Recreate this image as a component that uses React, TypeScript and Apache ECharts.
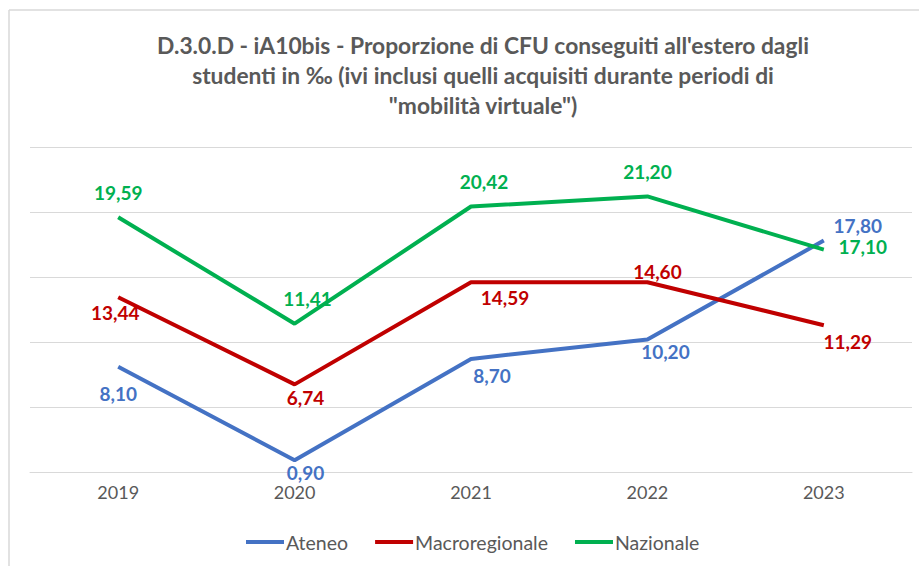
import React, { useEffect, useRef } from "react";
import * as echarts from "echarts";

const years = ["2019", "2020", "2021", "2022", "2023"];
const ateneo = [8.1, 0.9, 8.7, 10.2, 17.8];
const macroregionale = [13.44, 6.74, 14.59, 14.6, 11.29];
const nazionale = [19.59, 11.41, 20.42, 21.2, 17.1];

const titleText =
  "D.3.0.D - iA10bis - Proporzione di CFU conseguiti all'estero dagli\nstudenti in ‰ (ivi inclusi quelli acquisiti durante periodi di\n\"mobilità virtuale\")";

// label offsets (styling) relative to each point
const ateneoOffsets = [[0, 27], [11, 12], [21, 17], [18, 12], [34, -15]];
const macroOffsets = [[-3, 15], [11, 13], [34, 15], [10, -11], [24, 16]];
const nazOffsets = [[0, -25], [13, -25], [13, -25], [0, -25], [39, -3]];

const FONT = "Lato";

function fmt(v: number) {
  return v.toFixed(2).replace(".", ",");
}

export default function App() {
  const ref = useRef<HTMLDivElement>(null);
  useEffect(() => {
    document.body.style.margin = "0";
    const chart = echarts.init(ref.current!, undefined, { renderer: "svg" });
    const mk = (name: string, vals: number[], color: string, offs: number[][]) => ({
      name,
      type: "line",
      data: vals.map((v, i) => ({
        value: v,
        label: { offset: offs[i] },
      })),
      symbol: "circle",
      symbolSize: 0,
      showSymbol: true,
      lineStyle: { color, width: 4 },
      itemStyle: { color },
      label: {
        show: true,
        position: "inside",
        color,
        fontFamily: FONT,
        fontWeight: "bold",
        fontSize: 19,
        formatter: (p: any) => fmt(p.value),
      },
    });
    chart.setOption({
      animation: false,
      backgroundColor: "#ffffff",
      title: {
        text: titleText,
        left: 478,
        textAlign: "center",
        top: 25,
        textStyle: {
          fontFamily: FONT,
          fontWeight: "bold",
          fontSize: 22.8,
          color: "#595959",
          lineHeight: 30,
        },
      },
      grid: { left: 30, right: 7, top: 147, bottom: 94 },
      xAxis: {
        type: "category",
        data: years,
        boundaryGap: true,
        axisLine: { show: true, lineStyle: { color: "#D9D9D9", width: 1 } },
        axisTick: { show: false },
        axisLabel: { color: "#595959", fontFamily: FONT, fontSize: 18, margin: 11 },
      },
      yAxis: {
        type: "value",
        min: 0,
        max: 25,
        interval: 5,
        axisLabel: { show: false },
        axisLine: { show: false },
        axisTick: { show: false },
        splitLine: { lineStyle: { color: "#D9D9D9", width: 1 } },
      },
      legend: {
        bottom: 9,
        left: 241,
        itemWidth: 38,
        itemHeight: 4,
        itemGap: 27,
        icon: "rect",
        textStyle: { color: "#595959", fontFamily: FONT, fontSize: 19.5, padding: [0, 0, 0, -3] },
        data: ["Ateneo", "Macroregionale", "Nazionale"],
      },
      graphic: [
        { type: "line", shape: { x1: 9, y1: 10, x2: 919, y2: 10 }, style: { stroke: "#D9D9D9", lineWidth: 1.5 } },
        { type: "line", shape: { x1: 9, y1: 10, x2: 9, y2: 566 }, style: { stroke: "#D9D9D9", lineWidth: 1.5 } },
      ],
      series: [
        mk("Ateneo", ateneo, "#4472C4", ateneoOffsets),
        mk("Macroregionale", macroregionale, "#C00000", macroOffsets),
        mk("Nazionale", nazionale, "#00B050", nazOffsets),
      ],
    });
    return () => chart.dispose();
  }, []);
  return <div ref={ref} style={{ width: 919, height: 566 }} />;
}
